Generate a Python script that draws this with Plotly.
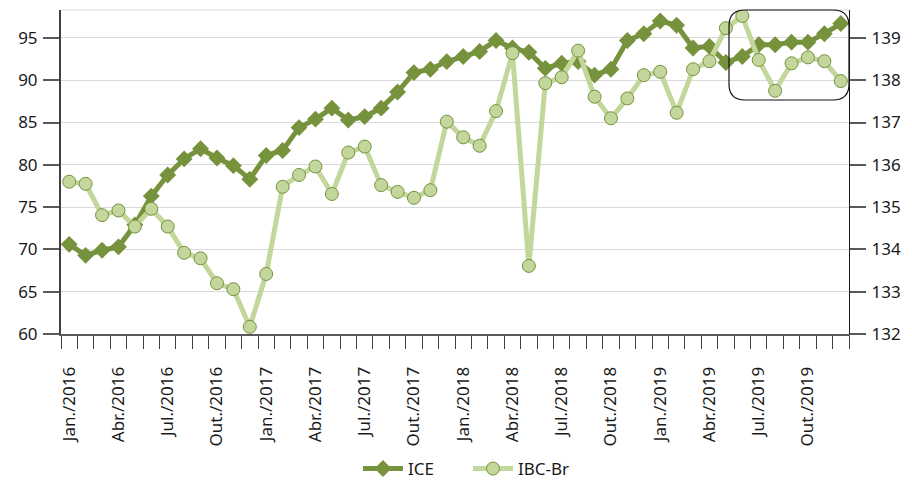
import plotly.graph_objects as go

months = ["Jan.", "Fev.", "Mar.", "Abr.", "Mai.", "Jun.", "Jul.", "Ago.", "Set.", "Out.", "Nov.", "Dez."]
years = [2016, 2017, 2018, 2019]
categories = [f"{m}/{y}" for y in years for m in months]

ice = [70.6, 69.3, 69.9, 70.3, 72.9, 76.3, 78.8, 80.7, 81.9, 80.8, 79.9, 78.3,
       81.1, 81.7, 84.4, 85.4, 86.7, 85.3, 85.7, 86.7, 88.6, 90.9, 91.3, 92.2,
       92.8, 93.4, 94.7, 93.8, 93.3, 91.4, 92.0, 92.2, 90.6, 91.3, 94.7, 95.5,
       97.0, 96.5, 93.8, 94.0, 92.1, 92.8, 94.2, 94.2, 94.5, 94.5, 95.5, 96.7]

ibc = [135.60, 135.55, 134.81, 134.92, 134.54, 134.96, 134.54, 133.92, 133.79, 133.20, 133.06, 132.17,
       133.42, 135.48, 135.76, 135.96, 135.31, 136.29, 136.43, 135.52, 135.36, 135.22, 135.40, 137.02,
       136.65, 136.45, 137.27, 138.64, 133.61, 137.93, 138.07, 138.70, 137.61, 137.10, 137.57, 138.12,
       138.20, 137.23, 138.26, 138.45, 139.23, 139.52, 138.48, 137.75, 138.40, 138.54, 138.45, 137.98]

left_ticks = [60, 65, 70, 75, 80, 85, 90, 95]
right_ticks = [132, 133, 134, 135, 136, 137, 138, 139]

xi = list(range(len(categories)))
label_idx = list(range(0, len(categories), 3))
label_txt = [categories[i] for i in label_idx]

DARK = "#76923c"
LIGHT = "#c3d69b"
FONT = "Noto Sans"

fig = go.Figure()
fig.add_trace(go.Scatter(
    x=xi, y=ice, name="ICE", mode="lines+markers",
    line=dict(color=DARK, width=5),
    marker=dict(symbol="diamond", size=13, color=DARK),
))
fig.add_trace(go.Scatter(
    x=xi, y=ibc, name="IBC-Br", mode="lines+markers", yaxis="y2",
    line=dict(color=LIGHT, width=5),
    marker=dict(symbol="circle", size=13, color=LIGHT, line=dict(color=DARK, width=1)),
))

W, H = 912, 484
L, R, T, B = 61, 63, 10, 150
pw, ph = W - L - R, H - T - B

def px(x):
    return (x - L) / pw

def py(y):
    return (H - B - y) / ph

# rounded highlight box (pixel geometry converted to paper)
x0, x1, y0, y1, r = 729, 849, 10, 100, 16
path = (f"M {px(x0 + r)} {py(y0)} L {px(x1 - r)} {py(y0)} Q {px(x1)} {py(y0)} {px(x1)} {py(y0 + r)} "
        f"L {px(x1)} {py(y1 - r)} Q {px(x1)} {py(y1)} {px(x1 - r)} {py(y1)} "
        f"L {px(x0 + r)} {py(y1)} Q {px(x0)} {py(y1)} {px(x0)} {py(y1 - r)} "
        f"L {px(x0)} {py(y0 + r)} Q {px(x0)} {py(y0)} {px(x0 + r)} {py(y0)} Z")

fig.update_layout(
    width=W, height=H,
    margin=dict(l=L, r=R, t=T, b=B, autoexpand=False),
    paper_bgcolor="white", plot_bgcolor="white",
    font=dict(family=FONT, size=17, color="#1a1a1a"),
    showlegend=True,
    legend=dict(orientation="h", x=px(358), xanchor="left", y=py(469), yanchor="middle",
                font=dict(size=17), itemwidth=40, entrywidth=55, traceorder="normal",
                bgcolor="rgba(0,0,0,0)"),
    xaxis=dict(
        range=[-0.5, len(categories) - 0.5],
        tickmode="array", tickvals=label_idx, ticktext=label_txt,
        tickangle=-90, ticks="outside", ticklen=0,
        ticklabelstandoff=24, automargin=False,
        minor=dict(ticks="outside", ticklen=13, tickwidth=1, tickcolor="#404040",
                   tick0=-0.5, dtick=1, showgrid=False),
        showline=True, linecolor="#595959", linewidth=2,
        showgrid=False, zeroline=False, fixedrange=True,
    ),
    yaxis=dict(
        range=[60, 98.3], tickmode="array", tickvals=left_ticks,
        ticks="outside", ticklen=16, tickcolor="#595959", tickwidth=1.5,
        showline=True, linecolor="#404040", linewidth=2,
        gridcolor="#d9d9d9", gridwidth=1, zeroline=False,
        ticklabelstandoff=2, automargin=False,
    ),
    yaxis2=dict(
        range=[132, 139.66], tickmode="array", tickvals=right_ticks,
        overlaying="y", side="right",
        ticks="outside", ticklen=16, tickcolor="#595959", tickwidth=1.5,
        showline=True, linecolor="#1a1a1a", linewidth=1.2,
        showgrid=False, zeroline=False,
        ticklabelstandoff=2, automargin=False,
    ),
    shapes=[
        dict(type="line", xref="paper", yref="paper", x0=0, x1=1, y0=1, y1=1,
             line=dict(color="#d9d9d9", width=1)),
        dict(type="path", xref="paper", yref="paper", path=path,
             line=dict(color="#111111", width=1.2), fillcolor="rgba(0,0,0,0)", layer="above"),
    ],
)

fig.write_html("out.html", config={"displayModeBar": False},
               post_script="document.body.style.margin='0';")
